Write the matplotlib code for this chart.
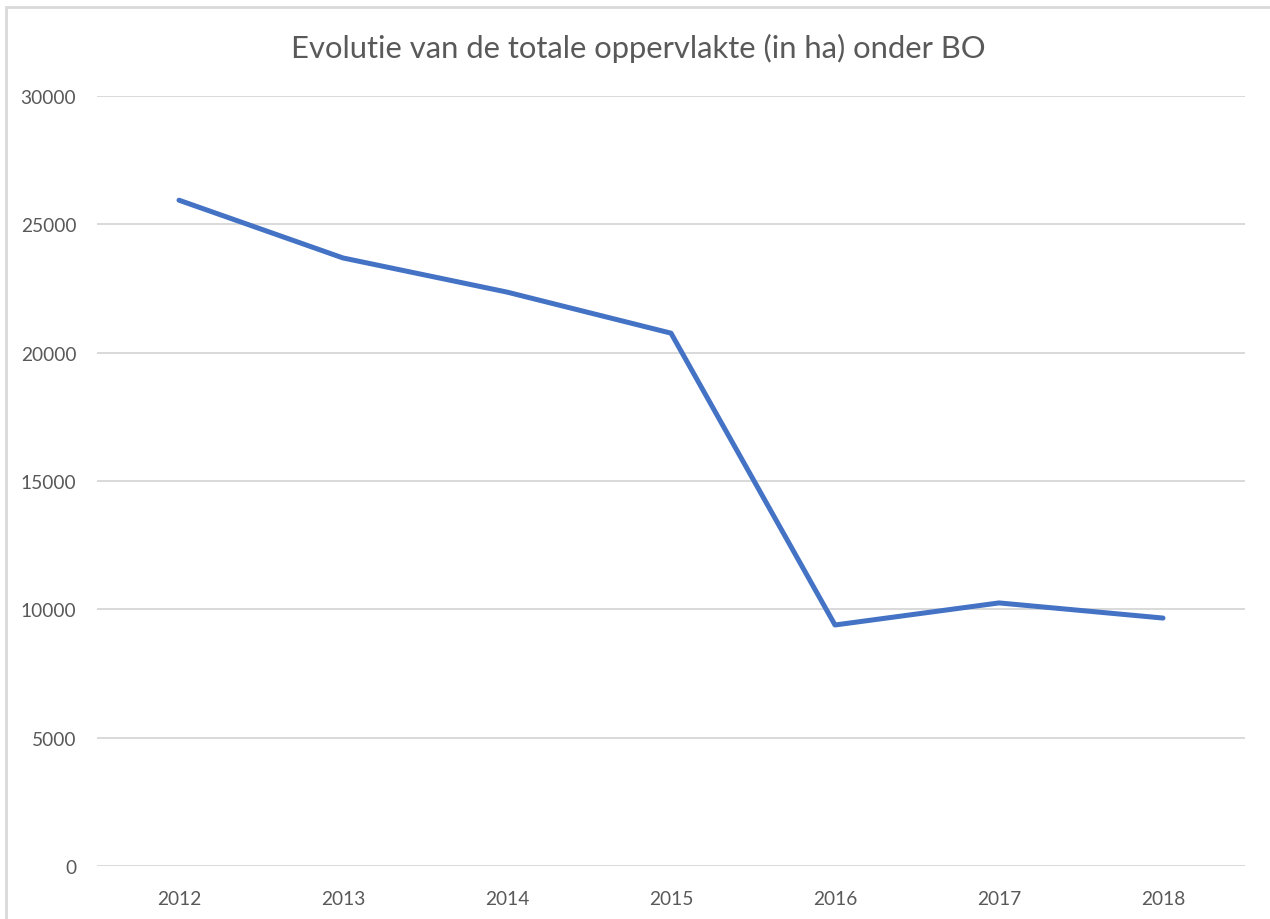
import matplotlib
matplotlib.use("Agg")
import matplotlib.pyplot as plt
from matplotlib.patches import Rectangle

years = ["2012", "2013", "2014", "2015", "2016", "2017", "2018"]
values = [25940, 23690, 22360, 20760, 9390, 10250, 9660]
yticks = [0, 5000, 10000, 15000, 20000, 25000, 30000]
title = "Evolutie van de totale oppervlakte (in ha) onder BO"

plt.rcParams['font.family'] = ['Lato', 'DejaVu Sans']
txt = "#595959"

fig = plt.figure(figsize=(12.7, 9.2), dpi=100)
fig.patches.append(Rectangle((6/1270, -0.01), 1.5, 1 - 8/920 + 0.01, transform=fig.transFigure,
                             fill=False, edgecolor="#D9D9D9", linewidth=2))
ax = fig.add_axes([97/1270, 1 - 867/920, (1245 - 97)/1270, (867 - 97)/920])

x = list(range(len(years)))
ax.plot(x, values, color="#4472C4", linewidth=3.6, solid_capstyle="round", solid_joinstyle="round", zorder=3)
ax.set_xlim(-0.5, len(years) - 0.5)
ax.set_ylim(0, 30000)
ax.set_yticks(yticks)
ax.set_yticklabels([str(v) for v in yticks])
ax.set_xticks(x)
ax.set_xticklabels(years)
ax.grid(axis="y", color="#D9D9D9", linewidth=1.4)
ax.set_axisbelow(True)
for s in ax.spines.values():
    s.set_visible(False)
ax.tick_params(axis="both", length=0, colors=txt, labelsize=13.8)
ax.tick_params(axis="y", pad=15)
ax.tick_params(axis="x", pad=17)
fig.text(638/1270, 1 - 48/920, title, ha="center", va="center",
         fontsize=22.3, color=txt)

fig.savefig("out.png", dpi=100)
